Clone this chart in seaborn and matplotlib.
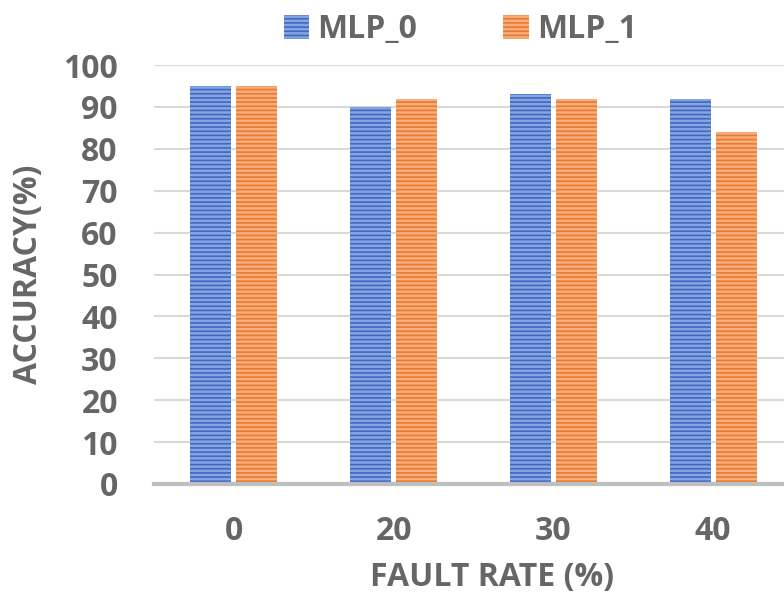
import matplotlib
matplotlib.use("Agg")
import matplotlib.pyplot as plt
from matplotlib.patches import Patch
import seaborn as sns
import pandas as pd

# Accuracy of each model under increasing fault rates
fault_rates = ["0", "20", "30", "40"]
series_names = ["MLP_0", "MLP_1"]
mlp0_acc = [95, 90, 93, 92]
mlp1_acc = [95, 92, 92, 84]
y_ticks = [0, 10, 20, 30, 40, 50, 60, 70, 80, 90, 100]

df = pd.DataFrame({
    "fault": fault_rates * 2,
    "model": [series_names[0]] * 4 + [series_names[1]] * 4,
    "acc": mlp0_acc + mlp1_acc,
})

sns.set_theme(style="white")
plt.rcParams["font.family"] = ["Open Sans", "DejaVu Sans"]
plt.rcParams["hatch.linewidth"] = 1.2

text_color = "#666666"
face_colors = {"MLP_0": "#86a4e2", "MLP_1": "#f7ae7c"}
hatch_colors = {"MLP_0": "#4169c0", "MLP_1": "#e97a30"}

fig = plt.figure(figsize=(7.84, 6.08), dpi=100)
ax = fig.add_axes([0.1964, 0.204, 0.815, 0.689])

sns.barplot(data=df, x="fault", y="acc", hue="model", order=fault_rates,
            hue_order=series_names, palette=face_colors, width=0.576, gap=0.108,
            saturation=1, ax=ax, legend=False)

# Striped fill: light face with darker horizontal hatch lines
for patch, name in zip(ax.patches, [series_names[0]] * 4 + [series_names[1]] * 4):
    patch.set_hatch("----")
    patch.set_edgecolor(hatch_colors[name])
    patch.set_linewidth(0)

ax.set_ylim(0, 100)
ax.set_xlim(-0.5, 3.5)
ax.set_yticks(y_ticks)
ax.yaxis.grid(True, color="#d9d9d9", linewidth=1.5)
ax.set_axisbelow(True)
for s in ["top", "right", "left"]:
    ax.spines[s].set_visible(False)
ax.spines["bottom"].set_color("#bfbfbf")
ax.spines["bottom"].set_linewidth(3)
ax.tick_params(axis="both", length=0, labelsize=23, labelcolor=text_color)
ax.tick_params(axis="x", pad=22)
ax.tick_params(axis="y", pad=26)
for lbl in ax.get_xticklabels() + ax.get_yticklabels():
    lbl.set_fontweight("bold")

ax.set_xlabel("FAULT RATE (%)", fontsize=23, fontweight="bold", color=text_color, labelpad=10)
ax.xaxis.label.set_x(0.529)
ax.set_ylabel("ACCURACY(%)", fontsize=23, fontweight="bold", color=text_color, labelpad=13)

handles = [Patch(facecolor=face_colors[n], edgecolor=hatch_colors[n], hatch="----",
                 linewidth=0) for n in series_names]
leg = fig.legend(handles, series_names, loc="center", bbox_to_anchor=(0.587, 0.951),
                 ncol=2, frameon=False, fontsize=23, handlelength=0.8, handleheight=0.8,
                 columnspacing=2.7, handletextpad=0.25)
for t in leg.get_texts():
    t.set_color(text_color)
    t.set_fontweight("bold")

fig.savefig("out.png", dpi=100)
